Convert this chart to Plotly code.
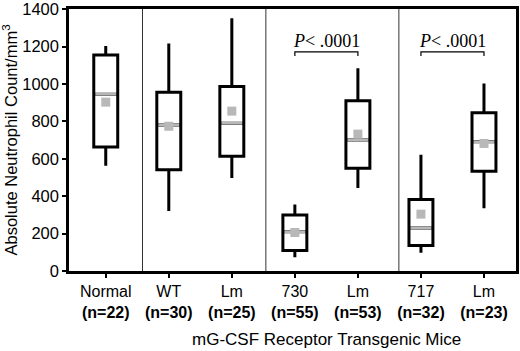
import plotly.graph_objects as go

# ---- data ----
groups = ["Normal", "WT", "Lm", "730", "Lm", "717", "Lm"]
n_counts = [22, 30, 25, 55, 53, 32, 23]
upper_whisker = [1203, 1216, 1352, 356, 1084, 621, 1003]
q3_vals = [1155, 956, 986, 300, 910, 383, 846]
median_vals = [945, 781, 790, 210, 700, 230, 691]
mean_vals = [903, 774, 855, 206, 732, 304, 682]
q1_vals = [663, 542, 614, 109, 550, 136, 533]
lower_whisker = [563, 321, 497, 74, 444, 97, 335]
y_ticks = [0, 200, 400, 600, 800, 1000, 1200, 1400]
comparisons = [(3, 4, "P< .0001"), (5, 6, "P< .0001")]
x_title = "mG-CSF Receptor Transgenic Mice"
y_title = "Absolute Neutrophil Count/mm<sup>3</sup>"

positions = list(range(len(groups)))
box_w = 0.38
SANS = "Liberation Sans, Arial, sans-serif"
SERIF = "Liberation Serif, Times New Roman, serif"
GRAY = "#b8b8b8"

fig = go.Figure()

fig.add_trace(go.Box(
    x=positions, q1=q1_vals, median=median_vals, q3=q3_vals,
    lowerfence=lower_whisker, upperfence=upper_whisker,
    width=box_w, whiskerwidth=0, boxpoints=False,
    fillcolor="white", line=dict(color="black", width=3),
    showlegend=False, hoverinfo="skip",
))

# gray median lines
mx, my = [], []
half = box_w / 2 - 0.025
for p, m in zip(positions, median_vals):
    mx += [p - half, p + half, None]
    my += [m, m, None]
fig.add_trace(go.Scatter(x=mx, y=my, mode="lines",
                         line=dict(color=GRAY, width=2.5),
                         showlegend=False, hoverinfo="skip"))

# gray mean squares
fig.add_trace(go.Scatter(x=positions, y=mean_vals, mode="markers",
                         marker=dict(symbol="square", size=9, color=GRAY),
                         showlegend=False, hoverinfo="skip"))

# separators between sections
for sx in [0.583, 2.54, 4.65]:
    fig.add_shape(type="line", xref="x", yref="paper", x0=sx, x1=sx, y0=0, y1=1,
                  line=dict(color="#333333", width=1))

# significance brackets
for a, b, txt in comparisons:
    fig.add_shape(type="path", xref="x", yref="y",
                  path=f"M {a},1150 L {a},1172 L {b},1172 L {b},1150",
                  line=dict(color="black", width=1.2))
    fig.add_annotation(x=(a + b) / 2, y=1232, xref="x", yref="y",
                       text="<i>P</i>< .0001", showarrow=False,
                       font=dict(family=SERIF, size=18, color="black"),
                       yanchor="middle")

fig.add_annotation(x=(positions[1] + positions[-1]) / 2, y=-0.26,
                   xref="x", yref="paper", text=x_title, showarrow=False,
                   font=dict(family=SANS, size=17, color="black"),
                   yanchor="middle")

ticktext = [f"{g}<br><b>(n={n})</b>" for g, n in zip(groups, n_counts)]

fig.update_layout(
    width=520, height=351,
    margin=dict(l=69, r=4, t=9, b=80),
    plot_bgcolor="white", paper_bgcolor="white",
    font=dict(family=SANS, size=16, color="black"),
    xaxis=dict(range=[-0.583, 6.508], tickvals=positions, ticktext=ticktext,
               showgrid=False, zeroline=False, showline=True, mirror=True,
               linecolor="black", linewidth=2.5, ticks="outside",
               ticklen=4, tickwidth=2, tickcolor="black", automargin=False,
               ticklabeloverflow="allow", tickfont=dict(size=16)),
    yaxis=dict(range=[0, 1401], tickvals=y_ticks, showgrid=False,
               zeroline=False, showline=True, mirror=True,
               linecolor="black", linewidth=2.5, ticks="outside",
               ticklen=4, tickwidth=2, tickcolor="black", automargin=False,
               ticklabeloverflow="allow", tickfont=dict(size=16.5),
               title=dict(text=y_title, font=dict(size=16.5), standoff=8)),
)

fig.write_html("out.html",
               config={"displayModeBar": False},
               post_script="document.body.style.margin='0';"
                           "document.body.style.overflow='hidden';")
